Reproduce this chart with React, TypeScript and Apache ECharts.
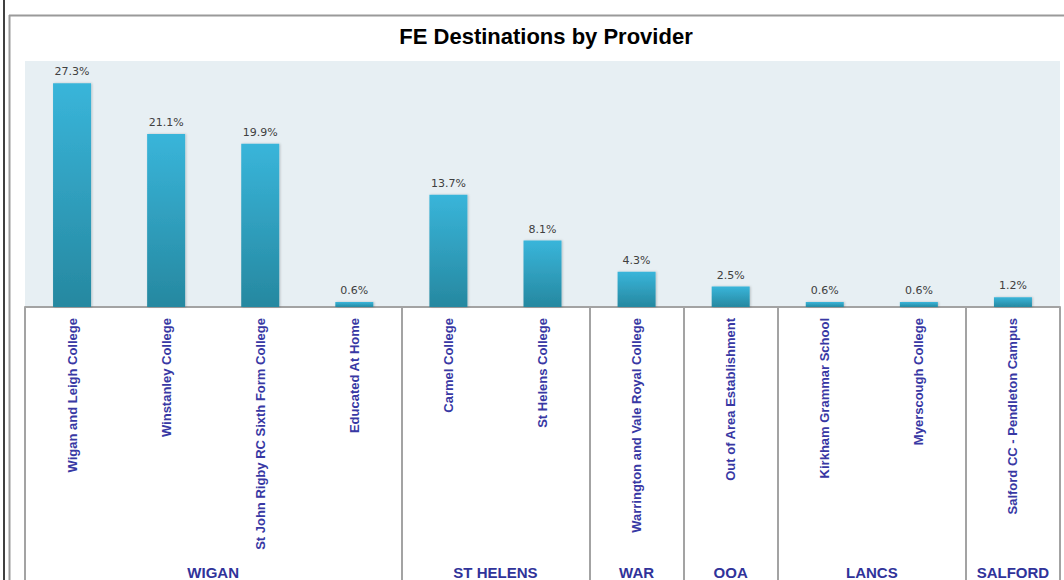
import React, { useEffect, useRef } from "react";
import * as echarts from "echarts";

const categories = [
  "Wigan and Leigh College",
  "Winstanley College",
  "St John Rigby RC Sixth Form College",
  "Educated At Home",
  "Carmel College",
  "St Helens College",
  "Warrington and Vale Royal College",
  "Out of Area Establishment",
  "Kirkham Grammar School",
  "Myerscough College",
  "Salford CC - Pendleton Campus",
];
const values = [27.3, 21.1, 19.9, 0.6, 13.7, 8.1, 4.3, 2.5, 0.6, 0.6, 1.2];
const groupNames = ["WIGAN", "ST HELENS", "WAR", "OOA", "LANCS", "SALFORD"];
const groupSizes = [4, 2, 1, 1, 2, 1];
const title = "FE Destinations by Provider";

export default function App() {
  const ref = useRef<HTMLDivElement>(null);
  useEffect(() => {
    if (!ref.current) return;
    const chart = echarts.init(ref.current, null, { renderer: "svg" });
    const starts: number[] = [];
    let s = 0;
    groupSizes.forEach((n) => {
      starts.push(s);
      s += n;
    });
    const decor: any[] = [
      { type: "line", shape: { x1: 4, y1: 0, x2: 4, y2: 580 }, style: { stroke: "#000", lineWidth: 1.5 }, silent: true },
      { type: "line", shape: { x1: 9.5, y1: 15, x2: 9.5, y2: 580 }, style: { stroke: "#9a9a9a", lineWidth: 2 }, silent: true },
      { type: "line", shape: { x1: 9, y1: 15.5, x2: 1064, y2: 15.5 }, style: { stroke: "#9a9a9a", lineWidth: 2 }, silent: true },
    ];
    const option: any = {
      animation: false,
      backgroundColor: "#ffffff",
      title: {
        text: title,
        left: 541,
        top: 20,
        textAlign: "center",
        textStyle: { fontFamily: "Liberation Sans, Arial", fontWeight: "bold", fontSize: 22, color: "#000" },
      },
      grid: {
        left: 25,
        right: 4,
        top: 61,
        bottom: 273,
        show: true,
        backgroundColor: "#e7eff3",
        borderWidth: 0,
      },
      xAxis: {
        type: "category",
        data: categories,
        axisLine: { show: true, lineStyle: { color: "#a3a3a3", width: 2 } },
        axisTick: {
          show: true,
          alignWithLabel: false,
          length: 280,
          interval: (index: number) => starts.includes(index),
          lineStyle: { color: "#a3a3a3", width: 2 },
        },
        axisLabel: {
          rotate: 90,
          interval: 0,
          margin: 11,
          color: "#3838a4",
          fontFamily: "Liberation Sans, Arial",
          fontWeight: "bold",
          fontSize: 13,
        },
      },
      yAxis: {
        type: "value",
        min: 0,
        max: 30,
        show: false,
        splitLine: { show: false },
      },
      series: [
        {
          type: "bar",
          data: values,
          barWidth: 38,
          itemStyle: {
            color: new echarts.graphic.LinearGradient(0, 0, 0, 1, [
              { offset: 0, color: "#39b5da" },
              { offset: 1, color: "#2688a0" },
            ]),
            shadowColor: "rgba(0,0,0,0.2)",
            shadowBlur: 2,
            shadowOffsetX: 1,
            shadowOffsetY: 0,
          },
          label: {
            show: true,
            position: "top",
            distance: 6,
            color: "#404040",
            fontFamily: "DejaVu Sans, Verdana",
            fontSize: 11,
            formatter: (p: any) => Number(p.value).toFixed(1) + "%",
          },
        },
      ],
      graphic: decor,
    };
    chart.setOption(option);
    const texts: any[] = [];
    groupNames.forEach((name, g) => {
      const a = chart.convertToPixel({ xAxisIndex: 0 }, categories[starts[g]]) as number;
      const b = chart.convertToPixel({ xAxisIndex: 0 }, categories[starts[g] + groupSizes[g] - 1]) as number;
      texts.push({
        type: "text",
        x: (a + b) / 2,
        y: 565,
        silent: true,
        style: {
          text: name,
          align: "center",
          verticalAlign: "top",
          fill: "#30339a",
          font: "bold 15px 'Liberation Sans', Arial",
        },
      });
    });
    chart.setOption({ graphic: [...decor, ...texts] });
    return () => chart.dispose();
  }, []);
  return <div ref={ref} style={{ position: "fixed", left: 0, top: 0, width: 1064, height: 580 }} />;
}
